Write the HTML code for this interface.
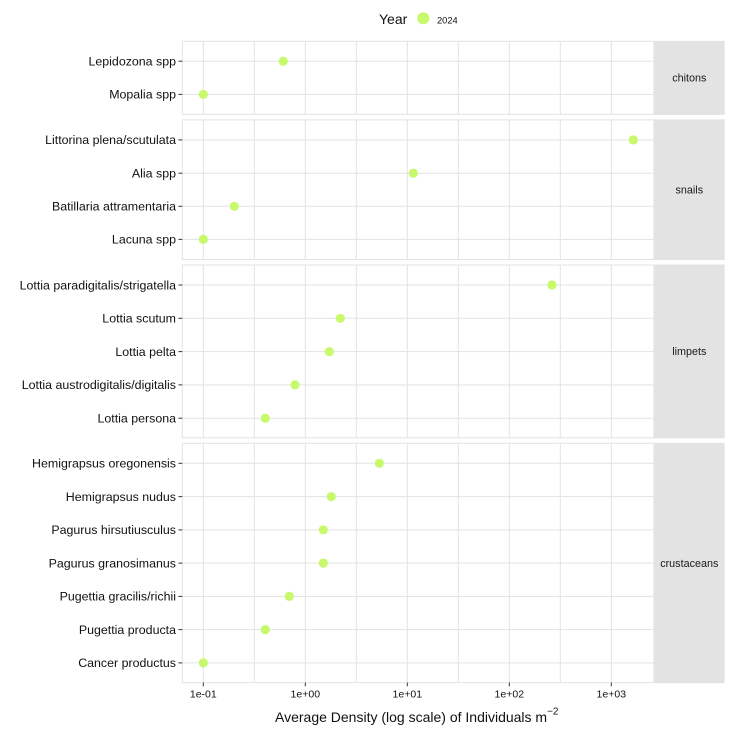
<!DOCTYPE html>
<html>
<head>
<meta charset="utf-8">
<style>
  html, body { margin: 0; padding: 0; background: #ffffff; }
  svg { display: block; }
  text { font-family: "Liberation Sans", Arial, sans-serif; }
</style>
</head>
<body>
<svg width="730" height="730" viewBox="0 0 730 730" xmlns="http://www.w3.org/2000/svg">
  <rect x="0" y="0" width="730" height="730" fill="#ffffff"/>

  <!-- Legend -->
  <text x="379" y="24" font-size="14" fill="#111">Year</text>
  <circle cx="423.3" cy="18.3" r="6" fill="#c8f96c"/>
  <text x="437" y="23.3" font-size="9.3" fill="#111">2024</text>

  <g stroke="#e3e3e3" stroke-width="1" fill="none">
    <line x1="203.3" x2="203.3" y1="41.3" y2="114.4"/>
    <line x1="254.3" x2="254.3" y1="41.3" y2="114.4"/>
    <line x1="305.3" x2="305.3" y1="41.3" y2="114.4"/>
    <line x1="356.3" x2="356.3" y1="41.3" y2="114.4"/>
    <line x1="407.3" x2="407.3" y1="41.3" y2="114.4"/>
    <line x1="458.3" x2="458.3" y1="41.3" y2="114.4"/>
    <line x1="509.3" x2="509.3" y1="41.3" y2="114.4"/>
    <line x1="560.3" x2="560.3" y1="41.3" y2="114.4"/>
    <line x1="611.3" x2="611.3" y1="41.3" y2="114.4"/>

    <line x1="203.3" x2="203.3" y1="119.9" y2="259.5"/>
    <line x1="254.3" x2="254.3" y1="119.9" y2="259.5"/>
    <line x1="305.3" x2="305.3" y1="119.9" y2="259.5"/>
    <line x1="356.3" x2="356.3" y1="119.9" y2="259.5"/>
    <line x1="407.3" x2="407.3" y1="119.9" y2="259.5"/>
    <line x1="458.3" x2="458.3" y1="119.9" y2="259.5"/>
    <line x1="509.3" x2="509.3" y1="119.9" y2="259.5"/>
    <line x1="560.3" x2="560.3" y1="119.9" y2="259.5"/>
    <line x1="611.3" x2="611.3" y1="119.9" y2="259.5"/>

    <line x1="203.3" x2="203.3" y1="265" y2="437.8"/>
    <line x1="254.3" x2="254.3" y1="265" y2="437.8"/>
    <line x1="305.3" x2="305.3" y1="265" y2="437.8"/>
    <line x1="356.3" x2="356.3" y1="265" y2="437.8"/>
    <line x1="407.3" x2="407.3" y1="265" y2="437.8"/>
    <line x1="458.3" x2="458.3" y1="265" y2="437.8"/>
    <line x1="509.3" x2="509.3" y1="265" y2="437.8"/>
    <line x1="560.3" x2="560.3" y1="265" y2="437.8"/>
    <line x1="611.3" x2="611.3" y1="265" y2="437.8"/>

    <line x1="203.3" x2="203.3" y1="443.3" y2="682.6"/>
    <line x1="254.3" x2="254.3" y1="443.3" y2="682.6"/>
    <line x1="305.3" x2="305.3" y1="443.3" y2="682.6"/>
    <line x1="356.3" x2="356.3" y1="443.3" y2="682.6"/>
    <line x1="407.3" x2="407.3" y1="443.3" y2="682.6"/>
    <line x1="458.3" x2="458.3" y1="443.3" y2="682.6"/>
    <line x1="509.3" x2="509.3" y1="443.3" y2="682.6"/>
    <line x1="560.3" x2="560.3" y1="443.3" y2="682.6"/>
    <line x1="611.3" x2="611.3" y1="443.3" y2="682.6"/>

    <line x1="182.3" x2="654" y1="61.2" y2="61.2"/>
    <line x1="182.3" x2="654" y1="94.4" y2="94.4"/>

    <line x1="182.3" x2="654" y1="139.9" y2="139.9"/>
    <line x1="182.3" x2="654" y1="173.2" y2="173.2"/>
    <line x1="182.3" x2="654" y1="206.3" y2="206.3"/>
    <line x1="182.3" x2="654" y1="239.4" y2="239.4"/>

    <line x1="182.3" x2="654" y1="285" y2="285"/>
    <line x1="182.3" x2="654" y1="318.3" y2="318.3"/>
    <line x1="182.3" x2="654" y1="351.6" y2="351.6"/>
    <line x1="182.3" x2="654" y1="384.9" y2="384.9"/>
    <line x1="182.3" x2="654" y1="418.2" y2="418.2"/>

    <line x1="182.3" x2="654" y1="463.3" y2="463.3"/>
    <line x1="182.3" x2="654" y1="496.6" y2="496.6"/>
    <line x1="182.3" x2="654" y1="529.9" y2="529.9"/>
    <line x1="182.3" x2="654" y1="563.1" y2="563.1"/>
    <line x1="182.3" x2="654" y1="596.4" y2="596.4"/>
    <line x1="182.3" x2="654" y1="629.6" y2="629.6"/>
    <line x1="182.3" x2="654" y1="662.9" y2="662.9"/>

    <rect x="182.3" y="41.3" width="471.7" height="73.1"/>
    <rect x="182.3" y="119.9" width="471.7" height="139.6"/>
    <rect x="182.3" y="265" width="471.7" height="172.8"/>
    <rect x="182.3" y="443.3" width="471.7" height="239.3"/>
  </g>

  <g fill="#e3e3e3">
    <rect x="654" y="40.8" width="70.7" height="74.1"/>
    <rect x="654" y="119.4" width="70.7" height="140.6"/>
    <rect x="654" y="264.5" width="70.7" height="173.8"/>
    <rect x="654" y="442.8" width="70.7" height="240.3"/>
  </g>
  <g font-size="10.8" fill="#1a1a1a" text-anchor="middle">
    <text x="689.3" y="81.7">chitons</text>
    <text x="689.3" y="193.5">snails</text>
    <text x="689.3" y="355.2">limpets</text>
    <text x="689.3" y="566.8">crustaceans</text>
  </g>

  <g stroke="#333" stroke-width="1">
    <line x1="178.5" x2="182.3" y1="61.2" y2="61.2"/>
    <line x1="178.5" x2="182.3" y1="94.4" y2="94.4"/>
    <line x1="178.5" x2="182.3" y1="139.9" y2="139.9"/>
    <line x1="178.5" x2="182.3" y1="173.2" y2="173.2"/>
    <line x1="178.5" x2="182.3" y1="206.3" y2="206.3"/>
    <line x1="178.5" x2="182.3" y1="239.4" y2="239.4"/>
    <line x1="178.5" x2="182.3" y1="285" y2="285"/>
    <line x1="178.5" x2="182.3" y1="318.3" y2="318.3"/>
    <line x1="178.5" x2="182.3" y1="351.6" y2="351.6"/>
    <line x1="178.5" x2="182.3" y1="384.9" y2="384.9"/>
    <line x1="178.5" x2="182.3" y1="418.2" y2="418.2"/>
    <line x1="178.5" x2="182.3" y1="463.3" y2="463.3"/>
    <line x1="178.5" x2="182.3" y1="496.6" y2="496.6"/>
    <line x1="178.5" x2="182.3" y1="529.9" y2="529.9"/>
    <line x1="178.5" x2="182.3" y1="563.1" y2="563.1"/>
    <line x1="178.5" x2="182.3" y1="596.4" y2="596.4"/>
    <line x1="178.5" x2="182.3" y1="629.6" y2="629.6"/>
    <line x1="178.5" x2="182.3" y1="662.9" y2="662.9"/>
    <line x1="203.3" x2="203.3" y1="682.6" y2="686.3"/>
    <line x1="305.3" x2="305.3" y1="682.6" y2="686.3"/>
    <line x1="407.3" x2="407.3" y1="682.6" y2="686.3"/>
    <line x1="509.3" x2="509.3" y1="682.6" y2="686.3"/>
    <line x1="611.3" x2="611.3" y1="682.6" y2="686.3"/>
  </g>

  <g font-size="12.4" fill="#111" text-anchor="end">
    <text x="176" y="65.5">Lepidozona spp</text>
    <text x="176" y="98.7">Mopalia spp</text>
    <text x="176" y="144.2">Littorina plena/scutulata</text>
    <text x="176" y="177.5">Alia spp</text>
    <text x="176" y="210.6">Batillaria attramentaria</text>
    <text x="176" y="243.7">Lacuna spp</text>
    <text x="176" y="289.3">Lottia paradigitalis/strigatella</text>
    <text x="176" y="322.6">Lottia scutum</text>
    <text x="176" y="355.9">Lottia pelta</text>
    <text x="176" y="389.2">Lottia austrodigitalis/digitalis</text>
    <text x="176" y="422.5">Lottia persona</text>
    <text x="176" y="467.6">Hemigrapsus oregonensis</text>
    <text x="176" y="500.9">Hemigrapsus nudus</text>
    <text x="176" y="534.2">Pagurus hirsutiusculus</text>
    <text x="176" y="567.4">Pagurus granosimanus</text>
    <text x="176" y="600.7">Pugettia gracilis/richii</text>
    <text x="176" y="633.9">Pugettia producta</text>
    <text x="176" y="667.2">Cancer productus</text>
  </g>

  <g font-size="10.5" fill="#111" text-anchor="middle">
    <text x="203.3" y="697.3">1e-01</text>
    <text x="305.3" y="697.3">1e+00</text>
    <text x="407.3" y="697.3">1e+01</text>
    <text x="509.3" y="697.3">1e+02</text>
    <text x="611.3" y="697.3">1e+03</text>
  </g>

  <text x="275" y="722" font-size="14" fill="#111">Average Density (log scale) of Individuals m<tspan font-size="10" dy="-7.5">−2</tspan></text>

  <g fill="#c8f96c">
    <circle cx="283.3" cy="61.2" r="4.6"/>
    <circle cx="203.3" cy="94.4" r="4.6"/>

    <circle cx="633.3" cy="139.9" r="4.6"/>
    <circle cx="413.3" cy="173.2" r="4.6"/>
    <circle cx="234.3" cy="206.3" r="4.6"/>
    <circle cx="203.3" cy="239.4" r="4.6"/>

    <circle cx="552" cy="285" r="4.6"/>
    <circle cx="340.3" cy="318.3" r="4.6"/>
    <circle cx="329.3" cy="351.6" r="4.6"/>
    <circle cx="295" cy="384.9" r="4.6"/>
    <circle cx="265.3" cy="418.2" r="4.6"/>

    <circle cx="379.3" cy="463.3" r="4.6"/>
    <circle cx="331.3" cy="496.6" r="4.6"/>
    <circle cx="323.3" cy="529.9" r="4.6"/>
    <circle cx="323.3" cy="563.1" r="4.6"/>
    <circle cx="289.3" cy="596.4" r="4.6"/>
    <circle cx="265.3" cy="629.6" r="4.6"/>
    <circle cx="203.3" cy="662.9" r="4.6"/>
  </g>
</svg>
</body>
</html>
